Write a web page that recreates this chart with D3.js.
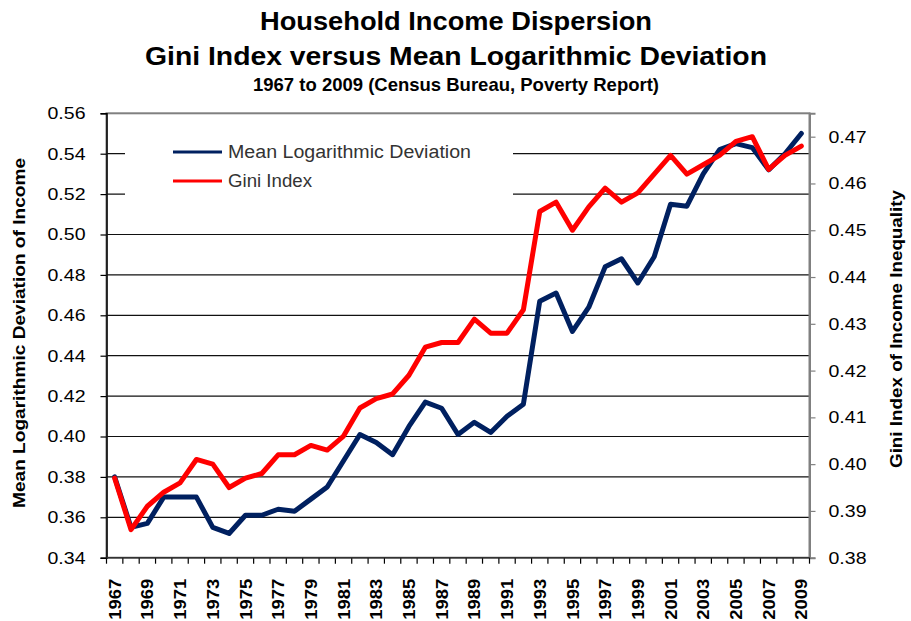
<!DOCTYPE html>
<html>
<head>
<meta charset="utf-8">
<script src="https://cdn.jsdelivr.net/npm/d3@7"></script>
<style>
  body { margin: 0; background: #fff; }
  svg { display: block; font-family: "Liberation Sans", Arial, sans-serif; }
</style>
</head>
<body>
<div id="chart"></div>
<script>
// categories
const years = [1967, 1968, 1969, 1970, 1971, 1972, 1973, 1974, 1975, 1976,
  1977, 1978, 1979, 1980, 1981, 1982, 1983, 1984, 1985, 1986,
  1987, 1988, 1989, 1990, 1991, 1992, 1993, 1994, 1995, 1996,
  1997, 1998, 1999, 2000, 2001, 2002, 2003, 2004, 2005, 2006,
  2007, 2008, 2009];

// mean logarithmic deviation (left axis)
const mld = [0.380, 0.355, 0.357, 0.370, 0.370, 0.370, 0.355, 0.352, 0.361, 0.361,
  0.364, 0.363, 0.369, 0.375, 0.388, 0.401, 0.397, 0.391, 0.405, 0.417,
  0.414, 0.401, 0.407, 0.402, 0.410, 0.416, 0.467, 0.471, 0.452, 0.464,
  0.484, 0.488, 0.476, 0.489, 0.515, 0.514, 0.530, 0.542, 0.545, 0.543,
  0.532, 0.540, 0.550];

// gini index (right axis)
const gini = [0.397, 0.386, 0.391, 0.394, 0.396, 0.401, 0.400, 0.395, 0.397, 0.398,
  0.402, 0.402, 0.404, 0.403, 0.406, 0.412, 0.414, 0.415, 0.419, 0.425,
  0.426, 0.426, 0.431, 0.428, 0.428, 0.433, 0.454, 0.456, 0.450, 0.455,
  0.459, 0.456, 0.458, 0.462, 0.466, 0.462, 0.464, 0.466, 0.469, 0.470,
  0.463, 0.466, 0.468];

// tick labels
const leftTicks = [0.34, 0.36, 0.38, 0.40, 0.42, 0.44, 0.46, 0.48, 0.50, 0.52, 0.54, 0.56];
const rightTicks = [0.38, 0.39, 0.40, 0.41, 0.42, 0.43, 0.44, 0.45, 0.46, 0.47];
const yearLabels = years.filter((d, i) => i % 2 === 0);

const W = 911, H = 621;
const plot = { left: 106.5, right: 809.5, top: 113.3, bottom: 557.7 };

const svg = d3.select('#chart').append('svg')
  .attr('width', W)
  .attr('height', H);

// scales
const x = d3.scaleBand().domain(years).range([plot.left, plot.right]);
const cx = d => x(d) + x.bandwidth() / 2;
const yL = d3.scaleLinear().domain([0.34, 0.56]).range([plot.bottom, plot.top]);
const yR = d3.scaleLinear().domain([0.38, 0.475]).range([plot.bottom, plot.top]);

// the source text is a bit wider than Liberation Sans, so stretch to fit
function fit(sel, len) {
  sel.attr('textLength', len).attr('lengthAdjust', 'spacingAndGlyphs');
}

// titles
const title = svg.append('g').attr('text-anchor', 'middle').attr('fill', '#000');
title.append('text')
  .attr('x', 456).attr('y', 30)
  .style('font-size', '26px').style('font-weight', 'bold')
  .text('Household Income Dispersion')
  .call(fit, 392);
title.append('text')
  .attr('x', 456).attr('y', 65)
  .style('font-size', '26px').style('font-weight', 'bold')
  .text('Gini Index versus Mean Logarithmic Deviation')
  .call(fit, 622);
title.append('text')
  .attr('x', 456).attr('y', 91)
  .style('font-size', '19px').style('font-weight', 'bold')
  .text('1967 to 2009 (Census Bureau, Poverty Report)')
  .call(fit, 406);

// gridlines
svg.append('g')
  .selectAll('line')
  .data(leftTicks.filter(d => d > 0.34 && d < 0.56))
  .join('line')
  .attr('x1', plot.left).attr('x2', plot.right)
  .attr('y1', d => yL(d)).attr('y2', d => yL(d))
  .attr('stroke', '#111').attr('stroke-width', 1.2);

// legend background hides the gridlines behind it
svg.append('rect')
  .attr('x', 125).attr('y', 134)
  .attr('width', 388).attr('height', 66)
  .attr('fill', '#fff');

// plot frame
svg.append('rect')
  .attr('x', plot.left).attr('y', plot.top)
  .attr('width', plot.right - plot.left).attr('height', plot.bottom - plot.top)
  .attr('fill', 'none')
  .attr('stroke', '#808080').attr('stroke-width', 2);

// left axis
const gL = svg.append('g')
  .attr('transform', `translate(${plot.left},0)`)
  .call(d3.axisLeft(yL).tickValues(leftTicks).tickFormat(d3.format('.2f')).tickSize(6).tickPadding(15));
gL.select('.domain').attr('stroke', '#000').attr('stroke-width', 1.5);
gL.selectAll('.tick line').attr('stroke', '#000').attr('stroke-width', 1.2);
gL.selectAll('.tick text')
  .style('font-size', '17px').style('font-family', '"Liberation Sans", Arial, sans-serif')
  .attr('fill', '#000')
  .call(fit, 38);

// right axis
const gR = svg.append('g')
  .attr('transform', `translate(${plot.right},0)`)
  .call(d3.axisRight(yR).tickValues(rightTicks).tickFormat(d3.format('.2f')).tickSize(6).tickPadding(13));
gR.select('.domain').attr('stroke', '#808080').attr('stroke-width', 2);
gR.selectAll('.tick line').attr('stroke', '#808080').attr('stroke-width', 1.2);
gR.selectAll('.tick text')
  .style('font-size', '17px').style('font-family', '"Liberation Sans", Arial, sans-serif')
  .attr('fill', '#000')
  .call(fit, 38);

// bottom axis: ticks between categories
const gB = svg.append('g');
gB.selectAll('line')
  .data(years.concat([null]))
  .join('line')
  .attr('x1', (d, i) => i < years.length ? x(d) : plot.right)
  .attr('x2', (d, i) => i < years.length ? x(d) : plot.right)
  .attr('y1', plot.bottom).attr('y2', plot.bottom + 6)
  .attr('stroke', '#000').attr('stroke-width', 1.2);
gB.append('line')
  .attr('x1', plot.left).attr('x2', plot.right)
  .attr('y1', plot.bottom).attr('y2', plot.bottom)
  .attr('stroke', '#333').attr('stroke-width', 1.5);
gB.selectAll('text')
  .data(yearLabels)
  .join('text')
  .attr('transform', d => `translate(${cx(d)},${plot.bottom + 21}) rotate(-90)`)
  .attr('text-anchor', 'end')
  .attr('dy', '0.36em')
  .style('font-size', '17px').style('font-weight', 'bold')
  .attr('fill', '#000')
  .text(d => d)
  .call(fit, 41);

// axis titles
svg.append('text')
  .attr('transform', 'translate(25,333) rotate(-90)')
  .attr('text-anchor', 'middle')
  .style('font-size', '16px').style('font-weight', 'bold')
  .text('Mean Logarithmic Deviation of Income')
  .call(fit, 350);
svg.append('text')
  .attr('transform', 'translate(902,329) rotate(-90)')
  .attr('text-anchor', 'middle')
  .style('font-size', '16px').style('font-weight', 'bold')
  .text('Gini Index of Income Inequality')
  .call(fit, 278);

// series
const lineL = d3.line().x((d, i) => cx(years[i])).y(d => yL(d));
const lineR = d3.line().x((d, i) => cx(years[i])).y(d => yR(d));

svg.append('path')
  .datum(mld)
  .attr('d', lineL)
  .attr('fill', 'none')
  .attr('stroke', '#002060').attr('stroke-width', 5)
  .attr('stroke-linejoin', 'round').attr('stroke-linecap', 'round');

svg.append('path')
  .datum(gini)
  .attr('d', lineR)
  .attr('fill', 'none')
  .attr('stroke', '#ff0000').attr('stroke-width', 5)
  .attr('stroke-linejoin', 'round').attr('stroke-linecap', 'round');

// legend
const legend = [
  { label: 'Mean Logarithmic Deviation', color: '#002060', len: 243 },
  { label: 'Gini Index', color: '#ff0000', len: 84 }
];
const lg = svg.append('g').selectAll('g')
  .data(legend)
  .join('g')
  .attr('transform', (d, i) => `translate(173,${152 + i * 29})`);
lg.append('line')
  .attr('x1', 0).attr('x2', 49)
  .attr('stroke', d => d.color).attr('stroke-width', 3);
lg.append('text')
  .attr('x', 55).attr('dy', '0.36em')
  .style('font-size', '18px')
  .attr('fill', '#333')
  .attr('textLength', d => d.len).attr('lengthAdjust', 'spacingAndGlyphs')
  .text(d => d.label);
</script>
</body>
</html>
